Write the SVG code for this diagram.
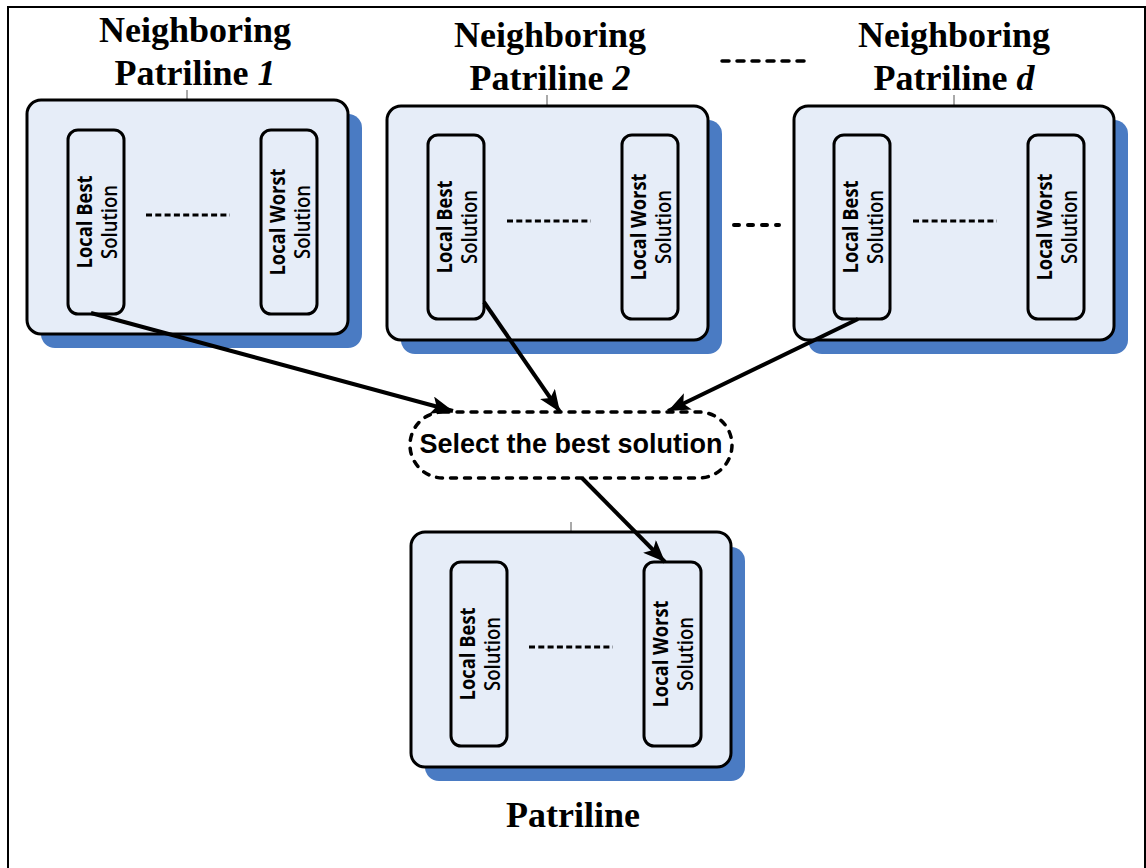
<svg xmlns="http://www.w3.org/2000/svg" width="1146" height="868" viewBox="0 0 1146 868">
  <style>
    .frame { fill: none; stroke: #000; stroke-width: 2; }
    .shadow { fill: #4a7bc3; }
    .box { fill: #e6edf8; stroke: #000; stroke-width: 3; }
    .cell { fill: #e6edf8; stroke: #000; stroke-width: 3; }
    .tick { stroke: #555; stroke-width: 1; }
    .dots { stroke: #000; stroke-width: 3; stroke-dasharray: 6 3.3; fill: none; }
    .bigdots { stroke: #000; stroke-width: 3.5; stroke-linecap: round; stroke-dasharray: 7 8; fill: none; }
    .title { font-family: "Liberation Serif", "Times New Roman", serif; font-weight: bold; font-size: 36px; text-anchor: middle; fill: #000; }
    .cellText { font-family: "Open Sans", "DejaVu Sans", sans-serif; font-size: 21px; text-anchor: middle; fill: #000; }
    .l1 { font-weight: 700; }
    .l2 { font-weight: 600; }
    .select { fill: #fff; stroke: #000; stroke-width: 3.5; stroke-linecap: round; stroke-dasharray: 6 8; }
    .selectText { font-family: "Liberation Sans", Arial, sans-serif; font-weight: bold; font-size: 27px; text-anchor: middle; fill: #000; }
    .arrow { stroke: #000; stroke-width: 4; fill: none; marker-end: url(#head); }
  </style>
  <defs>
    <marker id="head" markerUnits="userSpaceOnUse" markerWidth="24" markerHeight="18" refX="22" refY="9" orient="auto">
      <path d="M0,0 L22,9 L0,18 L5,9 Z" fill="#000"/>
    </marker>
  </defs>

  <rect class="frame" x="8" y="7" width="1137" height="900"/>

  <!-- Neighboring patriline 1 -->
  <g id="patriline1">
    <text class="title" x="195" y="42">Neighboring</text>
    <text class="title" x="195" y="85">Patriline <tspan font-style="italic">1</tspan></text>
    <line class="tick" x1="187" y1="90" x2="187" y2="100"/>
    <rect class="shadow" x="41" y="114" width="321" height="234" rx="14"/>
    <rect class="box" x="27" y="100" width="321" height="234" rx="14"/>
    <rect class="cell" x="68" y="130" width="56" height="184" rx="10"/>
    <text class="cellText" transform="rotate(-90 96 222)"><tspan class="l1" x="96" y="218" textLength="93" lengthAdjust="spacingAndGlyphs">Local Best</tspan><tspan class="l2" x="96" y="243" textLength="74" lengthAdjust="spacingAndGlyphs">Solution</tspan></text>
    <line class="dots" x1="146" y1="215" x2="230" y2="215"/>
    <rect class="cell" x="261" y="130" width="56" height="184" rx="10"/>
    <text class="cellText" transform="rotate(-90 289 222)"><tspan class="l1" x="289" y="218" textLength="107" lengthAdjust="spacingAndGlyphs">Local Worst</tspan><tspan class="l2" x="289" y="243" textLength="74" lengthAdjust="spacingAndGlyphs">Solution</tspan></text>
  </g>

  <!-- Neighboring patriline 2 -->
  <g id="patriline2">
    <text class="title" x="550" y="47">Neighboring</text>
    <text class="title" x="550" y="90">Patriline <tspan font-style="italic">2</tspan></text>
    <line class="tick" x1="547" y1="95" x2="547" y2="106"/>
    <rect class="shadow" x="401" y="120" width="321" height="234" rx="14"/>
    <rect class="box" x="387" y="106" width="321" height="234" rx="14"/>
    <rect class="cell" x="428" y="135" width="56" height="184" rx="10"/>
    <text class="cellText" transform="rotate(-90 456 227)"><tspan class="l1" x="456" y="223" textLength="93" lengthAdjust="spacingAndGlyphs">Local Best</tspan><tspan class="l2" x="456" y="248" textLength="74" lengthAdjust="spacingAndGlyphs">Solution</tspan></text>
    <line class="dots" x1="507" y1="221" x2="591" y2="221"/>
    <rect class="cell" x="622" y="135" width="56" height="184" rx="10"/>
    <text class="cellText" transform="rotate(-90 650 227)"><tspan class="l1" x="650" y="223" textLength="107" lengthAdjust="spacingAndGlyphs">Local Worst</tspan><tspan class="l2" x="650" y="248" textLength="74" lengthAdjust="spacingAndGlyphs">Solution</tspan></text>
  </g>

  <!-- ellipsis between patrilines -->
  <g id="ellipsis">
    <line class="bigdots" x1="722" y1="61" x2="806" y2="61"/>
    <line class="bigdots" x1="734" y1="225" x2="779" y2="225" style="stroke-width:4; stroke-dasharray:5 9"/>
  </g>

  <!-- Neighboring patriline d -->
  <g id="patrilineD">
    <text class="title" x="954" y="47">Neighboring</text>
    <text class="title" x="954" y="90">Patriline <tspan font-style="italic">d</tspan></text>
    <line class="tick" x1="954" y1="95" x2="954" y2="106"/>
    <rect class="shadow" x="808" y="120" width="320" height="234" rx="14"/>
    <rect class="box" x="794" y="106" width="320" height="234" rx="14"/>
    <rect class="cell" x="834" y="135" width="56" height="184" rx="10"/>
    <text class="cellText" transform="rotate(-90 862 227)"><tspan class="l1" x="862" y="223" textLength="93" lengthAdjust="spacingAndGlyphs">Local Best</tspan><tspan class="l2" x="862" y="248" textLength="74" lengthAdjust="spacingAndGlyphs">Solution</tspan></text>
    <line class="dots" x1="913" y1="221" x2="997" y2="221"/>
    <rect class="cell" x="1028" y="135" width="56" height="184" rx="10"/>
    <text class="cellText" transform="rotate(-90 1056 227)"><tspan class="l1" x="1056" y="223" textLength="107" lengthAdjust="spacingAndGlyphs">Local Worst</tspan><tspan class="l2" x="1056" y="248" textLength="74" lengthAdjust="spacingAndGlyphs">Solution</tspan></text>
  </g>

  <!-- selection step -->
  <g id="select">
    <rect class="select" x="410" y="412" width="322" height="66" rx="33"/>
    <text class="selectText" x="571" y="453">Select the best solution</text>
  </g>

  <!-- current patriline -->
  <g id="patriline">
    <line class="tick" x1="571" y1="522" x2="571" y2="532"/>
    <rect class="shadow" x="425" y="547" width="320" height="234" rx="14"/>
    <rect class="box" x="411" y="532" width="320" height="235" rx="14"/>
    <rect class="cell" x="451" y="562" width="56" height="184" rx="10"/>
    <text class="cellText" transform="rotate(-90 479 654)"><tspan class="l1" x="479" y="650" textLength="93" lengthAdjust="spacingAndGlyphs">Local Best</tspan><tspan class="l2" x="479" y="675" textLength="74" lengthAdjust="spacingAndGlyphs">Solution</tspan></text>
    <line class="dots" x1="529" y1="647" x2="613" y2="647"/>
    <rect class="cell" x="644" y="562" width="57" height="184" rx="10"/>
    <text class="cellText" transform="rotate(-90 672 654)"><tspan class="l1" x="672" y="650" textLength="107" lengthAdjust="spacingAndGlyphs">Local Worst</tspan><tspan class="l2" x="672" y="675" textLength="74" lengthAdjust="spacingAndGlyphs">Solution</tspan></text>
    <text class="title" x="573" y="827">Patriline</text>
  </g>

  <!-- connectors -->
  <g id="connectors">
    <line class="arrow" x1="91" y1="313" x2="453" y2="411"/>
    <line class="arrow" x1="484" y1="302" x2="560" y2="412"/>
    <line class="arrow" x1="858" y1="319" x2="668" y2="411"/>
    <line class="arrow" x1="582" y1="478" x2="665" y2="562"/>
  </g>
</svg>
